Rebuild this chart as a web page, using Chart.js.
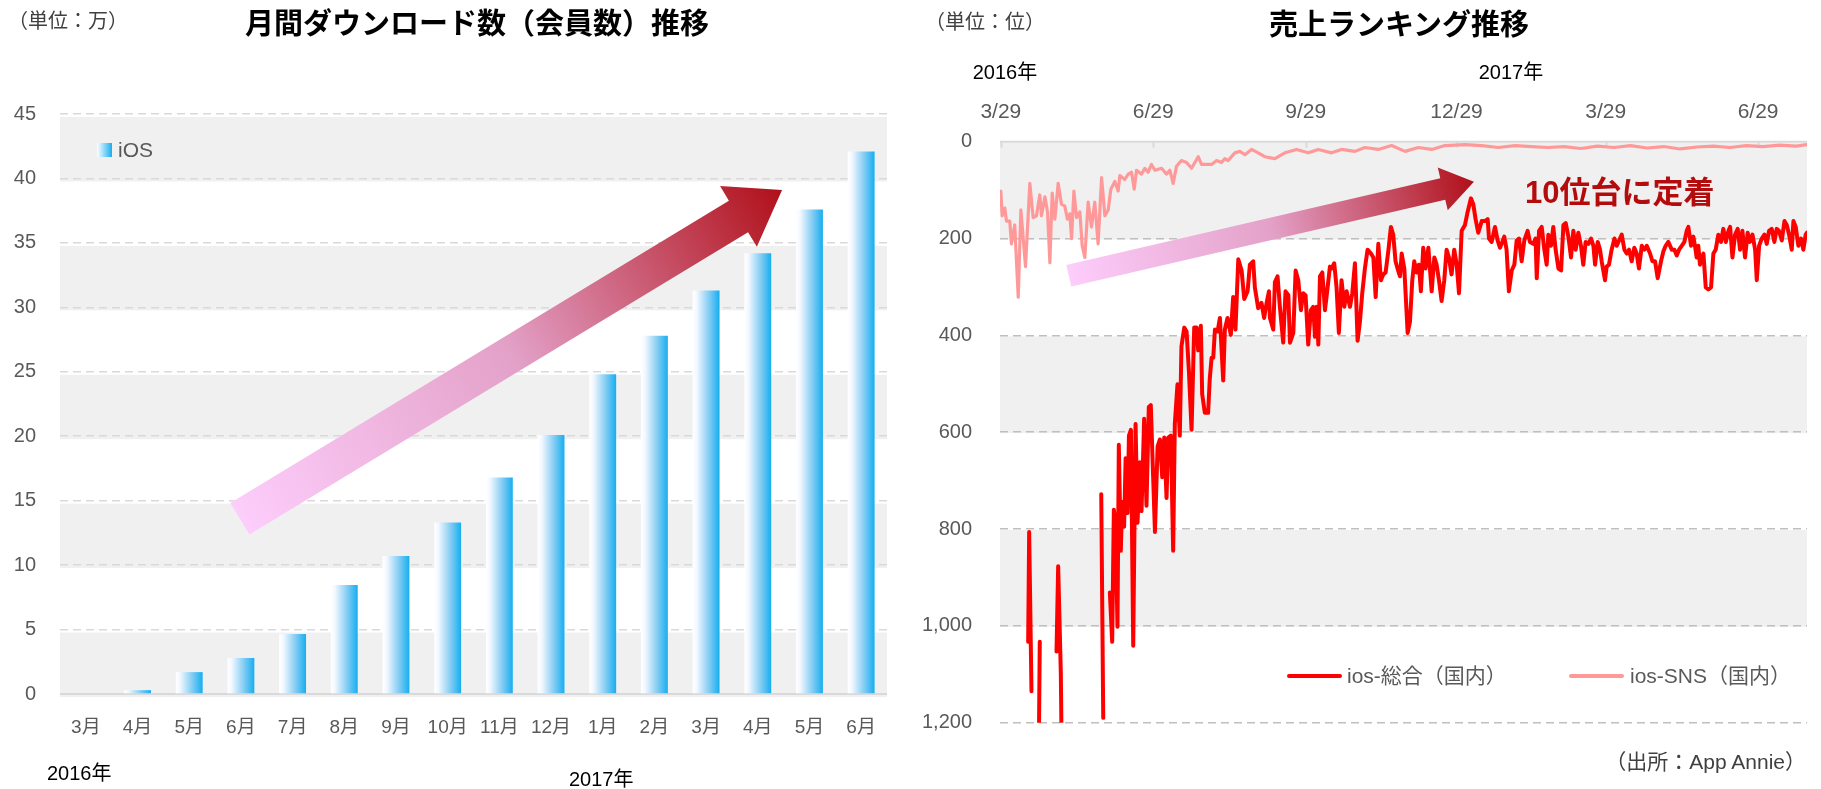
<!DOCTYPE html>
<html lang="ja">
<head>
<meta charset="utf-8">
<script src="https://cdn.jsdelivr.net/npm/chart.js@4.4.1/dist/chart.umd.min.js"></script>
<style>
body { margin:0; background:#fff; }
#page { position:relative; width:1821px; height:789px; overflow:hidden;
        font-family:"Liberation Sans","Noto Sans CJK JP",sans-serif; }
#page canvas { position:absolute; top:0; }
.t { position:absolute; white-space:nowrap; }
.title { font-family:"Noto Sans CJK JP",sans-serif; font-weight:bold; font-size:29px; line-height:29px; color:#000; }
.unit { font-size:20px; line-height:20px; color:#404040; }
.year { font-size:20px; line-height:20px; color:#000; }
.leg { font-size:21px; line-height:21px; color:#595959; }
.swatch { position:absolute; }
</style>
</head>
<body>
<div id="page">
  <canvas id="barChart" width="900" height="789" style="left:0"></canvas>
  <canvas id="rankChart" width="921" height="789" style="left:900px"></canvas>

  <div class="t unit" style="left:8px;top:11px">（単位：万）</div>
  <div class="t title" style="left:477px;top:7px;transform:translateX(-50%)">月間ダウンロード数（会員数）推移</div>
  <div class="swatch" style="left:97px;top:143px;width:15px;height:14px;background:linear-gradient(to right,#fff,#16aef0)"></div>
  <div class="t leg" style="left:118px;top:139px">iOS</div>
  <div class="t year" style="left:47px;top:763px">2016年</div>
  <div class="t year" style="left:569px;top:769px">2017年</div>

  <div class="t unit" style="left:925px;top:12px">（単位：位）</div>
  <div class="t title" style="left:1399px;top:8px;transform:translateX(-50%)">売上ランキング推移</div>
  <div class="t year" style="left:1005px;top:62px;transform:translateX(-50%)">2016年</div>
  <div class="t year" style="left:1511px;top:62px;transform:translateX(-50%)">2017年</div>
  <div class="t" style="left:1525px;top:177px;font-family:'Liberation Sans','Noto Sans CJK JP';font-weight:bold;font-size:31px;line-height:31px;color:#b40c0c">10位台に定着</div>

  <div class="swatch" style="left:1287px;top:674px;width:55px;height:4px;background:#ff0000;border-radius:2px"></div>
  <div class="t leg" style="left:1347px;top:665px">ios-総合（国内）</div>
  <div class="swatch" style="left:1569px;top:674px;width:55px;height:4px;background:#ff9999;border-radius:2px"></div>
  <div class="t leg" style="left:1630px;top:665px">ios-SNS（国内）</div>
  <div class="t unit" style="right:15px;top:751px;font-size:21px;line-height:21px">（出所：App Annie）</div>
</div>

<script>
/*
=================================
DATA
=================================
*/

// monthly downloads (members), unit: 10,000
const monthLabels = ["3月","4月","5月","6月","7月","8月","9月","10月","11月","12月","1月","2月","3月","4月","5月","6月"];
const iosDownloads = [0, 0.3, 1.7, 2.8, 4.65, 8.45, 10.7, 13.3, 16.8, 20.1, 24.8, 27.8, 31.3, 34.2, 37.6, 42.1];

// sales ranking, x = days after 2016/3/29
const rankTickDays = [0, 92, 184, 275, 365, 457];
const rankTickLabels = ["3/29","6/29","9/29","12/29","3/29","6/29"];

const totalDays = [
  16.5,17.1,18.5,20, 22.8,23.5,28, 33.6,34.6,36.2,37,45, 60.6,61.8,63,
  65.8,67.2,68.2,69.2,70.4,71.2,72.4,73.2,74.4,75.3,76.5,77.3,78.5,79.9,81.3,82.5,83.9,84.9,86.5,87.9,89.3,90.5,
  93,94.6,96,97.4,98.6,100,101,102.6,104,105,106.6,108,109,110.7,112.1,113.5,115.1,116.7,118.1,119.1,120.7,121.5,
  123.1,125.1,126.1,127.2,128.2,129.2,130.8,132.2,134.2,135.2,136.8,138.8,140.2,141.6,143.3,145.3,146.9,148.9,
  150.3,152.3,153.3,155.3,157.3,158.9,160.4,161.8,
  162.4,164.4,165.4,167,168.4,170.4,171.8,173.5,174.5,176.5,177.9,179.5,181.1,182.5,183.9,185.5,187.1,188.5,189.6,
  190.6,191.6,192.6,194,195.6,197.2,198.6,199.6,201.2,202.6,204,205.6,207.3,208.7,210.7,212.1,213.7,215.3,216.7,
  218.1,219.7,221.3,223.4,224.8,226.2,227.8,229.4,230.8,232.2,233.8,235.4,236.8,238.2,239.4,240.9,241.9,243.5,
  245.5,246.9,248.3,249.5,250.9,252.3,253.5,254.9,256.3,258,260,261.6,263,264.4,266,267.6,269,270.4,272,273.6,
  275.1,276.5,278.1,280.1,281.7,283.7,285.1,286.5,288.1,290.2,292.2,293.8,294.6,296.2,298.2,299.8,301.2,302.6,
  303.8,305.2,306.6,308.3,309.9,311.3,312.7,314.3,315.9,317.9,319.3,321.3,322.7,
  323.4,324.8,326.4,328,329.4,330.4,332,333.4,334.8,336.5,338.1,339.5,340.9,342.5,344.1,345.5,346.9,348.5,350.1,
  351.5,352.9,354.6,356.2,357.6,358.6,360.2,361.6,362.6,364.6,365.6,367,368.6,370.3,371.7,373.1,374.7,376.3,
  377.7,379.1,380.7,382.3,383.7,385.1,386.8,388.4,389.8,391.8,393.2,394.8,396.4,398.4,399.8,401.2,402.8,404.9,
  406.5,407.9,409.3,410.9,412.5,413.9,414.9,416.5,417.9,418.9,419.9,420.9,421.9,424,425.4,427,428.6,430,431.4,
  433,434.6,436,437.5,439.1,440.1,441.5,443.1,444.7,446.1,447.5,449.1,450.7,452.1,453.6,455.2,456.2,457.6,
  459.2,460.8,462.2,463.6,465.2,466.8,468.2,469.6,471.3,472.9,474.3,475.7,477.3,478.3,479.7,481.3,482.9,484.3,
  485.7,486.5
];
const totalRank = [
  1033,806,1135,null, 1300,1033,null, 1053,877,1096,1350,null, 728,1190,null,
  931,1033,760,787,1002,626,845,744,795,654,767,607,595,1041,583,787,662,763,572,752,548,544,
  806,630,615,693,611,736,611,607,845,583,501,607,423,384,392,474,595,384,384,431,380,521,
  560,560,489,446,446,388,392,364,493,388,364,399,321,388,243,266,325,309,
  254,247,301,344,333,364,333,309,
  364,388,290,278,341,415,309,317,415,395,266,286,348,313,317,419,348,341,403,
  341,419,278,270,348,301,258,262,251,301,395,286,341,309,341,313,251,411,372,
  313,262,223,231,239,321,211,286,274,270,227,176,192,247,262,278,231,262,
  395,372,286,247,270,254,309,219,262,219,309,239,254,286,329,286,223,239,274,223,
  254,313,184,172,145,117,129,160,188,164,164,160,200,207,176,204,219,207,
  196,223,309,266,254,204,200,247,204,184,207,211,200,
  282,184,176,223,254,192,215,176,223,262,266,172,168,196,239,184,223,188,215,
  254,207,211,200,215,254,207,223,247,286,258,254,223,200,215,204,192,223,
  231,223,247,219,231,262,215,223,215,231,247,247,282,247,227,215,207,223,
  223,235,223,215,207,184,176,215,196,215,239,215,254,231,301,305,301,231,223,
  192,207,180,207,184,176,239,192,180,223,184,239,188,207,192,223,286,215,
  200,192,211,184,180,207,180,184,204,164,172,192,223,164,176,215,200,223,
  192,188
];

const snsDays = [
  0,0.8,2.4,3.4,5.4,6.4,8.4,10.5,12.1,14.9,17.5,19.5,21.5,23.5,24.5,26.6,28.2,29.6,31,32.6,34.6,36.6,38.6,
  40.2,41.6,42.7,44.1,45.7,47.7,49.1,50.7,52.7,54.7,56.7,58.7,60.8,62.8,64.8,66.4,68.8,70.8,71.8,74.8,76.9,
  78.9,80.5,81.9,84.9,86.9,88.9,90.9,93,97,100,102,104,106,109,112.1,115.1,117.1,119.1,121.1,123.1,127.2,
  130.2,133.2,135.2,137.2,141.2,144.3,147.3,151.3,155.3,159.3,165.4,171.4,178.5,185.5,191.6,199.6,205.6,
  213.7,219.7,227.8,235.8,243.9,251.9,260,268,280.1,290.2,300.2,310.3,320.3,330,340,350,360,370,380,390,
  400,410,420,430,440,450,460,470,480,486.5
];
const snsRank = [
  102,153,137,164,164,211,172,321,141,258,86,157,153,110,153,114,145,250,106,160,86,129,133,
  160,149,200,102,157,145,215,239,125,176,125,211,74,153,141,98,82,102,70,78,67,
  63,98,59,67,55,63,47,59,55,67,59,86,51,39,43,55,43,31,47,47,47,
  39,43,35,39,23,20,27,16,23,31,35,23,16,23,16,23,16,
  20,12,16,8,20,12,16,8,6,8,12,8,10,12,10,14,9,12,8,13,
  10,15,11,9,12,8,10,7,9,6
];

/*
=================================
HELPERS
=================================
*/

const TICK_COLOR = "#595959";
const LATIN_CJK = "'Liberation Sans','Noto Sans CJK JP',sans-serif";
const BAR_PCT = 0.52;

function drawArrow(chart, ar){

    const ctx = chart.ctx;
    const xs = chart.scales.x;
    const ys = chart.scales.y;

    const x0 = xs.getPixelForValue(ar.from[0]);
    const y0 = ys.getPixelForValue(ar.from[1]);
    const x1 = xs.getPixelForValue(ar.to[0]);
    const y1 = ys.getPixelForValue(ar.to[1]);

    const len = Math.hypot(x1 - x0, y1 - y0);
    const ux = (x1 - x0) / len, uy = (y1 - y0) / len;
    const nx = -uy, ny = ux;
    const bx = x1 - ux * ar.head, by = y1 - uy * ar.head;
    const s = ar.shaft / 2, h = ar.headWidth / 2;

    const grad = ctx.createLinearGradient(x0, y0, x1, y1);
    grad.addColorStop(0, "#fdcdfb");
    grad.addColorStop(0.5, "#e3a1c8");
    grad.addColorStop(1, "#b01019");

    ctx.save();
    ctx.fillStyle = grad;
    ctx.beginPath();
    ctx.moveTo(x0 + nx * s, y0 + ny * s);
    ctx.lineTo(bx + nx * s, by + ny * s);
    ctx.lineTo(bx + nx * h, by + ny * h);
    ctx.lineTo(x1, y1);
    ctx.lineTo(bx - nx * h, by - ny * h);
    ctx.lineTo(bx - nx * s, by - ny * s);
    ctx.lineTo(x0 - nx * s, y0 - ny * s);
    ctx.closePath();
    ctx.fill();
    ctx.restore();
}

function decorPlugin(cfg){

    return {
        id: "decor",

        beforeDraw(chart){
            const { ctx, chartArea: a } = chart;
            const ys = chart.scales.y;
            ctx.save();
            ctx.fillStyle = "#f0f0f0";
            cfg.bands.forEach(b => {
                const p1 = ys.getPixelForValue(b[0]);
                const p2 = ys.getPixelForValue(b[1]);
                ctx.fillRect(a.left, Math.min(p1, p2) + cfg.bandShift, a.right - a.left, Math.abs(p2 - p1));
            });
            ctx.restore();
        },

        beforeDatasetsDraw(chart){
            const { ctx, chartArea: a } = chart;
            const py = chart.scales.y.getPixelForValue(cfg.baseValue);
            ctx.save();
            ctx.strokeStyle = "#d9d9d9";
            ctx.lineWidth = 2;
            ctx.beginPath();
            ctx.moveTo(a.left, py);
            ctx.lineTo(a.right, py);
            if(cfg.innerTicks){
                const xs = chart.scales.x;
                cfg.innerTicks.forEach(v => {
                    const px = Math.round(xs.getPixelForValue(v)) + 0.5;
                    ctx.moveTo(px, py);
                    ctx.lineTo(px, py + 6);
                });
            }
            ctx.stroke();
            ctx.restore();
        },

        afterDatasetsDraw(chart){
            drawArrow(chart, cfg.arrow);
        }
    };
}

/*
=================================
BAR CHART
MONTHLY DOWNLOADS
=================================
*/

new Chart(document.getElementById("barChart"), {

    type: "bar",

    data: {
        labels: monthLabels,
        datasets: [{
            label: "iOS",
            data: iosDownloads,
            borderWidth: 0,
            backgroundColor: c => {
                const chart = c.chart;
                const xs = chart.scales.x;
                if(!chart.chartArea || !xs || c.dataIndex === undefined) return "#16aef0";
                const cx = xs.getPixelForValue(c.dataIndex);
                const w = (xs.width / monthLabels.length) * BAR_PCT;
                const g = chart.ctx.createLinearGradient(cx - w / 2, 0, cx + w / 2, 0);
                g.addColorStop(0, "#ffffff");
                g.addColorStop(0.15, "#f3f8ff");
                g.addColorStop(0.6, "#86cdf3");
                g.addColorStop(1, "#16aef0");
                return g;
            }
        }]
    },

    options: {
        responsive: false,
        animation: false,
        layout: { padding: { top: 114, right: 13, bottom: 45, left: 0 } },
        plugins: { legend: { display: false }, tooltip: { enabled: false } },
        datasets: { bar: { categoryPercentage: 1, barPercentage: BAR_PCT } },
        scales: {
            x: {
                grid: { display: false, drawTicks: false },
                border: { display: false },
                ticks: { color: TICK_COLOR, font: { family: LATIN_CJK, size: 19 }, padding: 22, maxRotation: 0 },
                afterFit: s => { s.height = 50; }
            },
            y: {
                min: 0,
                max: 45,
                ticks: { stepSize: 5, color: TICK_COLOR, font: { family: LATIN_CJK, size: 20 }, padding: 24 },
                grid: {
                    drawTicks: false,
                    lineWidth: 1.5,
                    color: c => c.tick && c.tick.value === 0 ? "rgba(0,0,0,0)" : "#d9d9d9"
                },
                border: { display: false, dash: [8, 5] },
                afterFit: s => { s.width = 60; }
            }
        }
    },

    plugins: [decorPlugin({
        bands: [[0, 5], [10, 15], [20, 25], [30, 35], [40, 45]],
        bandShift: 3,
        baseValue: 0,
        arrow: { from: [2.98, 13.6], to: [13.47, 39.1], shaft: 37, head: 51, headWidth: 71 }
    })]
});

/*
=================================
LINE CHART
SALES RANKING
=================================
*/

new Chart(document.getElementById("rankChart"), {

    type: "line",

    data: {
        datasets: [{
            label: "ios-総合（国内）",
            data: totalDays.map((d, i) => ({ x: d, y: totalRank[i] })),
            borderColor: "#ff0000",
            borderWidth: 4
        }, {
            label: "ios-SNS（国内）",
            data: snsDays.map((d, i) => ({ x: d, y: snsRank[i] })),
            borderColor: "#ff9999",
            borderWidth: 3.2
        }]
    },

    options: {
        responsive: false,
        animation: false,
        layout: { padding: { top: 96.7, right: 14, bottom: 66.3, left: 0 } },
        plugins: { legend: { display: false }, tooltip: { enabled: false } },
        elements: {
            point: { radius: 0 },
            line: { tension: 0, borderJoinStyle: "round", borderCapStyle: "round" }
        },
        scales: {
            x: {
                type: "linear",
                position: "top",
                min: -0.5,
                max: 486.5,
                grid: { display: false, drawTicks: false },
                border: { display: false },
                afterBuildTicks: s => { s.ticks = rankTickDays.map(v => ({ value: v })); },
                ticks: {
                    autoSkip: false,
                    maxRotation: 0,
                    color: TICK_COLOR,
                    font: { family: LATIN_CJK, size: 21 },
                    padding: 17,
                    callback: (v, i) => rankTickLabels[i]
                },
                afterFit: s => { s.height = 45; }
            },
            y: {
                reverse: true,
                min: 0,
                max: 1200,
                ticks: {
                    stepSize: 200,
                    color: TICK_COLOR,
                    font: { family: LATIN_CJK, size: 20 },
                    padding: 28,
                    callback: v => v.toLocaleString("en-US")
                },
                grid: {
                    drawTicks: false,
                    lineWidth: 1.5,
                    color: c => c.tick && c.tick.value === 0 ? "rgba(0,0,0,0)" : "#bfbfbf"
                },
                border: { display: false, dash: [8, 5] },
                afterFit: s => { s.width = 100; }
            }
        }
    },

    plugins: [decorPlugin({
        bands: [[0, 200], [400, 600], [800, 1000]],
        bandShift: 1,
        baseValue: 0,
        innerTicks: rankTickDays,
        arrow: { from: [41, 277], to: [285.5, 82.6], shaft: 22, head: 32, headWidth: 44 }
    })]
});
</script>
</body>
</html>
